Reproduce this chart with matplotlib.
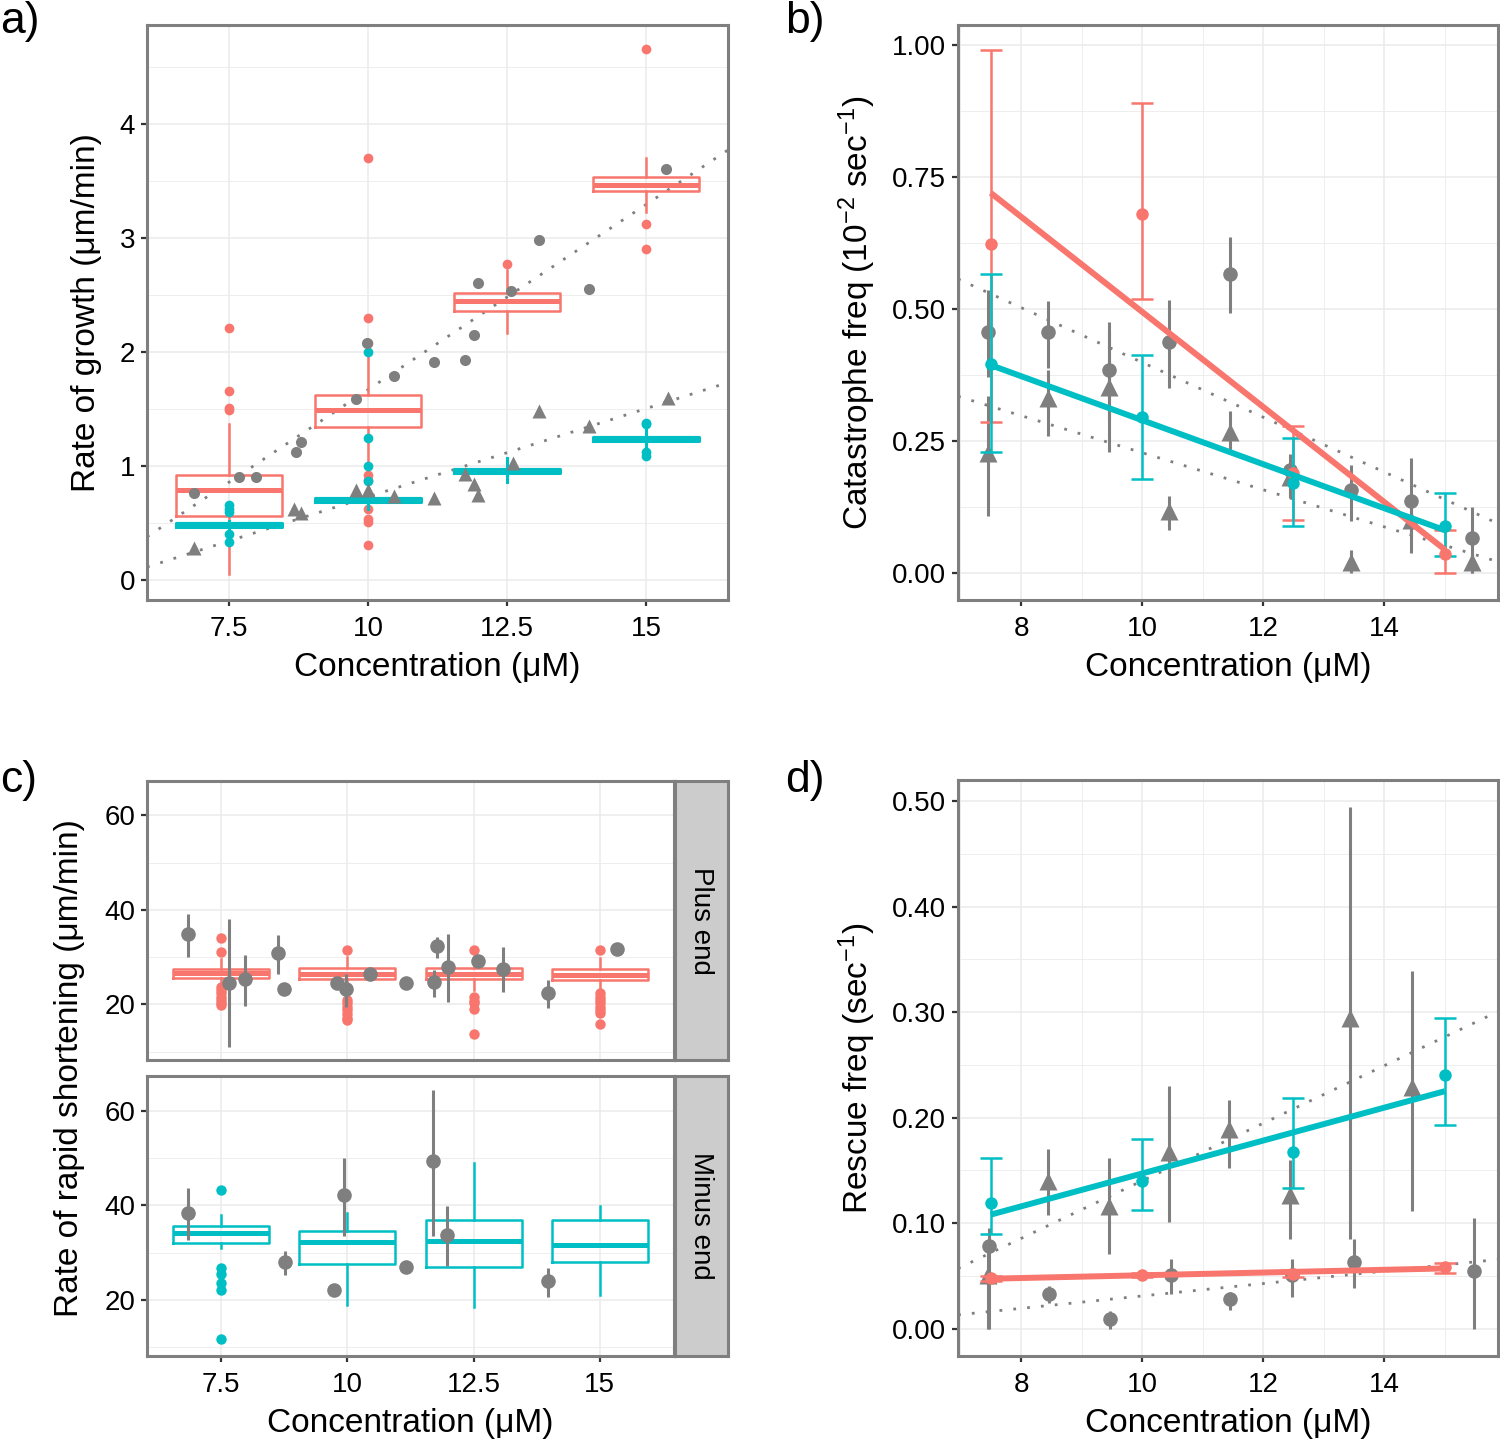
import numpy as np
import matplotlib.pyplot as plt
from matplotlib.ticker import MultipleLocator, FormatStrFormatter

plt.rcParams['font.family'] = ['Liberation Sans', 'DejaVu Sans']
plt.rcParams['mathtext.fontset'] = 'custom'
plt.rcParams['mathtext.rm'] = 'Liberation Sans'
plt.rcParams['mathtext.it'] = 'Liberation Sans:italic'

RED = '#F8766D'
CYAN = '#00BFC4'
GREY = '#7F7F7F'
GRID = '#EBEBEB'

# ---- a) growth rate ----
conc = [7.5, 10, 12.5, 15]

gp_q1 = [0.56, 1.34, 2.36, 3.41]
gp_med = [0.79, 1.49, 2.45, 3.47]
gp_q3 = [0.92, 1.62, 2.52, 3.54]
gp_lo = [0.05, 0.95, 2.17, 3.23]
gp_hi = [1.37, 2.00, 2.72, 3.70]
gp_fliers = [[2.21, 1.66, 1.51, 1.49],
             [3.70, 2.30, 2.08, 0.92, 0.88, 0.62, 0.54, 0.51, 0.31],
             [2.77],
             [4.66, 3.12, 2.90]]

gm_q1 = [0.462, 0.682, 0.942, 1.222]
gm_med = [0.48, 0.70, 0.96, 1.24]
gm_q3 = [0.498, 0.718, 0.978, 1.258]
gm_lo = [0.44, 0.62, 0.86, 1.15]
gm_hi = [0.52, 0.78, 1.07, 1.33]
gm_fliers = [[0.66, 0.62, 0.60, 0.40, 0.33],
             [2.00, 1.25, 1.00, 0.87],
             [],
             [1.38, 1.37, 1.12, 1.09]]

lit_gp_x = [6.88, 7.68, 7.98, 8.70, 8.79, 9.79, 9.98, 10.47, 11.18, 11.75,
            11.90, 11.97, 12.58, 13.08, 13.98, 15.35]
lit_gp_y = [0.76, 0.90, 0.90, 1.12, 1.21, 1.59, 2.08, 1.79, 1.91, 1.93,
            2.15, 2.61, 2.54, 2.98, 2.55, 3.61]
lit_gm_x = [6.88, 8.67, 8.80, 9.79, 10.00, 10.47, 11.18, 11.74, 11.90, 11.97,
            12.60, 13.08, 13.98, 15.39]
lit_gm_y = [0.28, 0.62, 0.59, 0.79, 0.79, 0.74, 0.72, 0.93, 0.84, 0.75,
            1.03, 1.48, 1.35, 1.60]
trend_a = [(0.325, -1.58), (0.155, -0.82)]   # slope, intercept

# ---- b) catastrophe frequency ----
cat_p = [0.623, 0.680, 0.190, 0.036]
cat_p_lo = [0.286, 0.519, 0.100, 0.000]
cat_p_hi = [0.990, 0.890, 0.278, 0.082]
cat_m = [0.395, 0.295, 0.171, 0.089]
cat_m_lo = [0.230, 0.178, 0.089, 0.032]
cat_m_hi = [0.567, 0.413, 0.256, 0.151]

lit_x = [7.45, 8.45, 9.45, 10.45, 11.45, 12.45, 13.45, 14.45, 15.45]
lit_cp_y = [0.457, 0.457, 0.385, 0.437, 0.567, 0.196, 0.157, 0.137, 0.066]
lit_cp_lo = [0.371, 0.389, 0.289, 0.350, 0.492, 0.143, 0.098, 0.039, 0.000]
lit_cp_hi = [0.537, 0.516, 0.476, 0.517, 0.637, 0.225, 0.205, 0.218, 0.125]
lit_cm_y = [0.228, 0.332, 0.353, 0.118, 0.268, 0.182, 0.021, 0.100, 0.021]
lit_cm_lo = [0.108, 0.259, 0.230, 0.081, 0.228, 0.150, 0.000, 0.070, 0.000]
lit_cm_hi = [0.335, 0.385, 0.457, 0.146, 0.307, 0.210, 0.043, 0.130, 0.046]
trend_b = [(-0.0519, 0.918), (-0.0351, 0.579)]

# ---- c) shortening rate ----
sp_q1 = [25.6, 25.3, 25.3, 25.1]
sp_med = [26.7, 26.5, 26.5, 26.3]
sp_q3 = [27.5, 27.7, 27.7, 27.4]
sp_lo = [24.4, 22.0, 23.0, 23.0]
sp_hi = [29.7, 30.0, 30.0, 29.8]
sp_fliers = [[34.1, 31.1, 23.7, 23.0, 22.3, 21.6, 20.9, 20.2, 19.9],
             [31.6, 21.0, 20.2, 19.5, 18.7, 18.0, 17.2, 16.7],
             [31.4, 21.6, 20.8, 20.2, 19.0, 13.7],
             [31.6, 22.3, 21.5, 20.9, 20.2, 19.5, 18.8, 18.1, 15.9]]

sm_q1 = [32.0, 27.7, 26.9, 28.1]
sm_med = [34.2, 32.2, 32.4, 31.6]
sm_q3 = [35.6, 34.5, 36.8, 36.9]
sm_lo = [31.0, 18.9, 18.6, 21.0]
sm_hi = [37.9, 38.4, 49.0, 39.8]
sm_fliers = [[43.2, 26.7, 25.6, 23.7, 22.1, 11.8], [], [], []]

lit_sp_x = [6.85, 7.65, 7.97, 8.63, 8.75, 9.79, 9.97, 10.45, 11.17, 11.72,
            11.78, 11.99, 12.59, 13.09, 13.98, 15.35]
lit_sp_y = [34.9, 24.6, 25.3, 30.9, 23.2, 24.6, 23.2, 26.5, 24.6, 24.8,
            32.4, 27.9, 29.1, 27.4, 22.3, 31.8]
lit_sp_lo = [30.0, 11.0, 19.7, 26.5, 22.5, 23.5, 19.4, 25.5, 23.5, 21.6,
             29.8, 20.4, 28.0, 22.5, 19.2, 31.8]
lit_sp_hi = [39.2, 38.0, 30.4, 34.6, 23.8, 25.5, 26.5, 27.5, 25.5, 27.2,
             34.2, 34.9, 30.0, 32.1, 25.1, 31.8]
lit_sm_x = [6.85, 8.77, 9.74, 9.94, 11.16, 11.69, 11.97, 13.97]
lit_sm_y = [38.4, 28.1, 22.2, 42.1, 27.0, 49.3, 33.8, 24.0]
lit_sm_lo = [32.7, 25.2, 22.2, 33.5, 27.0, 33.6, 27.2, 20.6]
lit_sm_hi = [43.7, 30.3, 22.2, 50.0, 27.0, 64.4, 39.8, 26.7]

# ---- d) rescue frequency ----
res_p = [0.0475, 0.051, 0.052, 0.058]
res_p_lo = [0.045, 0.049, 0.049, 0.053]
res_p_hi = [0.050, 0.053, 0.055, 0.062]
res_m = [0.119, 0.140, 0.167, 0.240]
res_m_lo = [0.090, 0.112, 0.133, 0.1925]
res_m_hi = [0.162, 0.180, 0.219, 0.294]

lit_rp_x = [7.47, 8.46, 9.47, 10.48, 11.46, 12.48, 13.50, 15.49]
lit_rp_y = [0.078, 0.033, 0.0094, 0.051, 0.0276, 0.051, 0.063, 0.055]
lit_rp_lo = [0.0, 0.024, 0.0, 0.033, 0.018, 0.030, 0.038, 0.0]
lit_rp_hi = [0.095, 0.040, 0.017, 0.066, 0.035, 0.066, 0.0845, 0.105]
lit_rm_x = [7.45, 8.45, 9.45, 10.45, 11.44, 12.44, 13.43, 14.46]
lit_rm_y = [0.051, 0.140, 0.116, 0.167, 0.189, 0.127, 0.294, 0.229]
lit_rm_lo = [0.0, 0.108, 0.071, 0.101, 0.152, 0.0845, 0.0845, 0.111]
lit_rm_hi = [0.080, 0.170, 0.162, 0.230, 0.217, 0.160, 0.4946, 0.339]
trend_d = [(0.0273, -0.133), (0.00588, -0.0279)]

TICK_FS = 20
LABEL_FS = 24


def box_stats(q1, med, q3, lo, hi, fliers):
    return [dict(q1=a, med=b, q3=c, whislo=d, whishi=e, fliers=f)
            for a, b, c, d, e, f in zip(q1, med, q3, lo, hi, fliers)]


def draw_boxes(ax, stats, color, lw=1.8, ms=7):
    ax.bxp(stats, positions=conc, widths=1.9, showcaps=False, manage_ticks=False,
           boxprops=dict(color=color, lw=lw),
           whiskerprops=dict(color=color, lw=lw),
           medianprops=dict(color=color, lw=lw * 2),
           flierprops=dict(marker='o', markerfacecolor=color, markeredgecolor='none', markersize=ms),
           zorder=3)


def lit_points(ax, x, y, lo, hi, marker, ms):
    y = np.array(y)
    err = [y - np.array(lo), np.array(hi) - y]
    ax.errorbar(x, y, yerr=err, fmt=marker, color=GREY, ms=ms, mec='none',
                elinewidth=2.2, capsize=0, zorder=4)


def our_points(ax, y, lo, hi, color):
    y = np.array(y)
    err = [y - np.array(lo), np.array(hi) - y]
    ax.errorbar(conc, y, yerr=err, fmt='o', color=color, ms=9, mec='none',
                elinewidth=1.8, capsize=8, capthick=1.8, zorder=5)
    k, b = np.polyfit(conc, y, 1)
    xs = np.array([conc[0], conc[-1]])
    ax.plot(xs, k * xs + b, color=color, lw=4.3, zorder=6, solid_capstyle='butt')


def trends(ax, coefs):
    xs = np.array(ax.get_xlim())
    for k, b in coefs:
        ax.plot(xs, k * xs + b, color=GREY, lw=2, ls=(0, (1, 4)), zorder=2)


def style(ax, xminor=None, yminor=None):
    ax.set_axisbelow(True)
    for s in ax.spines.values():
        s.set_color(GREY)
        s.set_linewidth(2.2)
    ax.tick_params(length=4.5, width=1.6, color='#333333', labelsize=TICK_FS, pad=4,
                   labelcolor='black')
    ax.tick_params(axis='x', pad=7)
    ax.tick_params(which='minor', length=0)
    if xminor:
        ax.xaxis.set_minor_locator(MultipleLocator(xminor))
    if yminor:
        ax.yaxis.set_minor_locator(MultipleLocator(yminor))
    ax.grid(which='major', color=GRID, lw=1.1)
    ax.grid(which='minor', color=GRID, lw=0.6)
    if not xminor:
        ax.grid(which='minor', axis='x', visible=False)


fig = plt.figure(figsize=(15, 14.41), dpi=100)

# a)
ax = fig.add_axes([0.098, 0.5836, 0.3873, 0.3991])
ax.set_xlim(6.03, 16.47)
ax.set_ylim(-0.175, 4.87)
trends(ax, trend_a)
draw_boxes(ax, box_stats(gp_q1, gp_med, gp_q3, gp_lo, gp_hi, gp_fliers), RED)
draw_boxes(ax, box_stats(gm_q1, gm_med, gm_q3, gm_lo, gm_hi, gm_fliers), CYAN, lw=2.2)
ax.plot(lit_gp_x, lit_gp_y, 'o', color=GREY, ms=8, mec='none', zorder=4)
ax.plot(lit_gm_x, lit_gm_y, '^', color=GREY, ms=10, mec='none', zorder=4)
ax.set_xticks(conc)
ax.set_xticklabels(['7.5', '10', '12.5', '15'])
ax.set_yticks([0, 1, 2, 3, 4])
style(ax, yminor=0.5)
ax.set_ylabel('Rate of growth (μm/min)', fontsize=LABEL_FS)
ax.yaxis.set_label_coords(-0.077, 0.5)
ax.set_xlabel('Concentration (μM)', fontsize=LABEL_FS)
ax.xaxis.set_label_coords(0.5, -0.09)

# b)
ax = fig.add_axes([0.6387, 0.5836, 0.36, 0.3991])
ax.set_xlim(6.96, 15.88)
ax.set_ylim(-0.051, 1.038)
trends(ax, trend_b)
lit_points(ax, lit_x, lit_cp_y, lit_cp_lo, lit_cp_hi, 'o', 10.5)
lit_points(ax, lit_x, lit_cm_y, lit_cm_lo, lit_cm_hi, '^', 13.5)
our_points(ax, cat_p, cat_p_lo, cat_p_hi, RED)
our_points(ax, cat_m, cat_m_lo, cat_m_hi, CYAN)
ax.set_xticks([8, 10, 12, 14])
ax.set_yticks([0, 0.25, 0.5, 0.75, 1.0])
ax.yaxis.set_major_formatter(FormatStrFormatter('%.2f'))
style(ax, xminor=1, yminor=0.125)
ax.set_ylabel(r'Catastrophe freq (10$^{-2}$ sec$^{-1}$)', fontsize=LABEL_FS)
ax.yaxis.set_label_coords(-0.148, 0.5)
ax.set_xlabel('Concentration (μM)', fontsize=LABEL_FS)
ax.xaxis.set_label_coords(0.5, -0.09)

# c) two facets
facets = [
    ([0.098, 0.2644, 0.3513, 0.1936], 'Plus end', sp_q1, sp_med, sp_q3, sp_lo, sp_hi, sp_fliers, RED,
     lit_sp_x, lit_sp_y, lit_sp_lo, lit_sp_hi),
    ([0.098, 0.0590, 0.3513, 0.1943], 'Minus end', sm_q1, sm_med, sm_q3, sm_lo, sm_hi, sm_fliers, CYAN,
     lit_sm_x, lit_sm_y, lit_sm_lo, lit_sm_hi),
]
for i, (rect, label, q1, med, q3, lo, hi, fl, col, lx, ly, llo, lhi) in enumerate(facets):
    ax = fig.add_axes(rect)
    ax.set_xlim(6.03, 16.47)
    ax.set_ylim(8.2, 67.3)
    draw_boxes(ax, box_stats(q1, med, q3, lo, hi, fl), col, lw=1.8, ms=7.5)
    lit_points(ax, lx, ly, llo, lhi, 'o', 10.5)
    ax.set_xticks(conc)
    ax.set_xticklabels(['7.5', '10', '12.5', '15'])
    ax.set_yticks([20, 40, 60])
    style(ax, yminor=10)
    if i == 0:
        ax.tick_params(axis='x', length=0, labelbottom=False)
    else:
        ax.set_xlabel('Concentration (μM)', fontsize=LABEL_FS)
        ax.xaxis.set_label_coords(0.5, -0.185)
    sx = fig.add_axes([rect[0] + rect[2] + 0.0007, rect[1], 0.0353, rect[3]])
    sx.set_facecolor('#CCCCCC')
    sx.set_xticks([])
    sx.set_yticks([])
    for s in sx.spines.values():
        s.set_color(GREY)
        s.set_linewidth(2.2)
    sx.text(0.5, 0.5, label, rotation=-90, ha='center', va='center', fontsize=20,
            transform=sx.transAxes)
fig.text(70 / 1500, 1 - 1068 / 1441, 'Rate of rapid shortening (μm/min)', rotation=90,
         ha='center', va='center', fontsize=LABEL_FS)

# d)
ax = fig.add_axes([0.6387, 0.0590, 0.36, 0.3997])
ax.set_xlim(6.96, 15.88)
ax.set_ylim(-0.026, 0.52)
trends(ax, trend_d)
lit_points(ax, lit_rp_x, lit_rp_y, lit_rp_lo, lit_rp_hi, 'o', 10.5)
lit_points(ax, lit_rm_x, lit_rm_y, lit_rm_lo, lit_rm_hi, '^', 13.5)
our_points(ax, res_p, res_p_lo, res_p_hi, RED)
our_points(ax, res_m, res_m_lo, res_m_hi, CYAN)
ax.set_xticks([8, 10, 12, 14])
ax.set_yticks([0, 0.1, 0.2, 0.3, 0.4, 0.5])
ax.yaxis.set_major_formatter(FormatStrFormatter('%.2f'))
style(ax, xminor=1, yminor=0.05)
ax.set_ylabel(r'Rescue freq (sec$^{-1}$)', fontsize=LABEL_FS)
ax.yaxis.set_label_coords(-0.148, 0.5)
ax.set_xlabel('Concentration (μM)', fontsize=LABEL_FS)
ax.xaxis.set_label_coords(0.5, -0.09)

# panel letters
for lbl, x, y in [('a)', 0.0, 0.999), ('b)', 785 / 1500, 0.999),
                  ('c)', 0.0, 1 - 760 / 1441), ('d)', 785 / 1500, 1 - 760 / 1441)]:
    fig.text(x, y, lbl, fontsize=32, ha='left', va='top')

fig.savefig('out.png', dpi=100)
